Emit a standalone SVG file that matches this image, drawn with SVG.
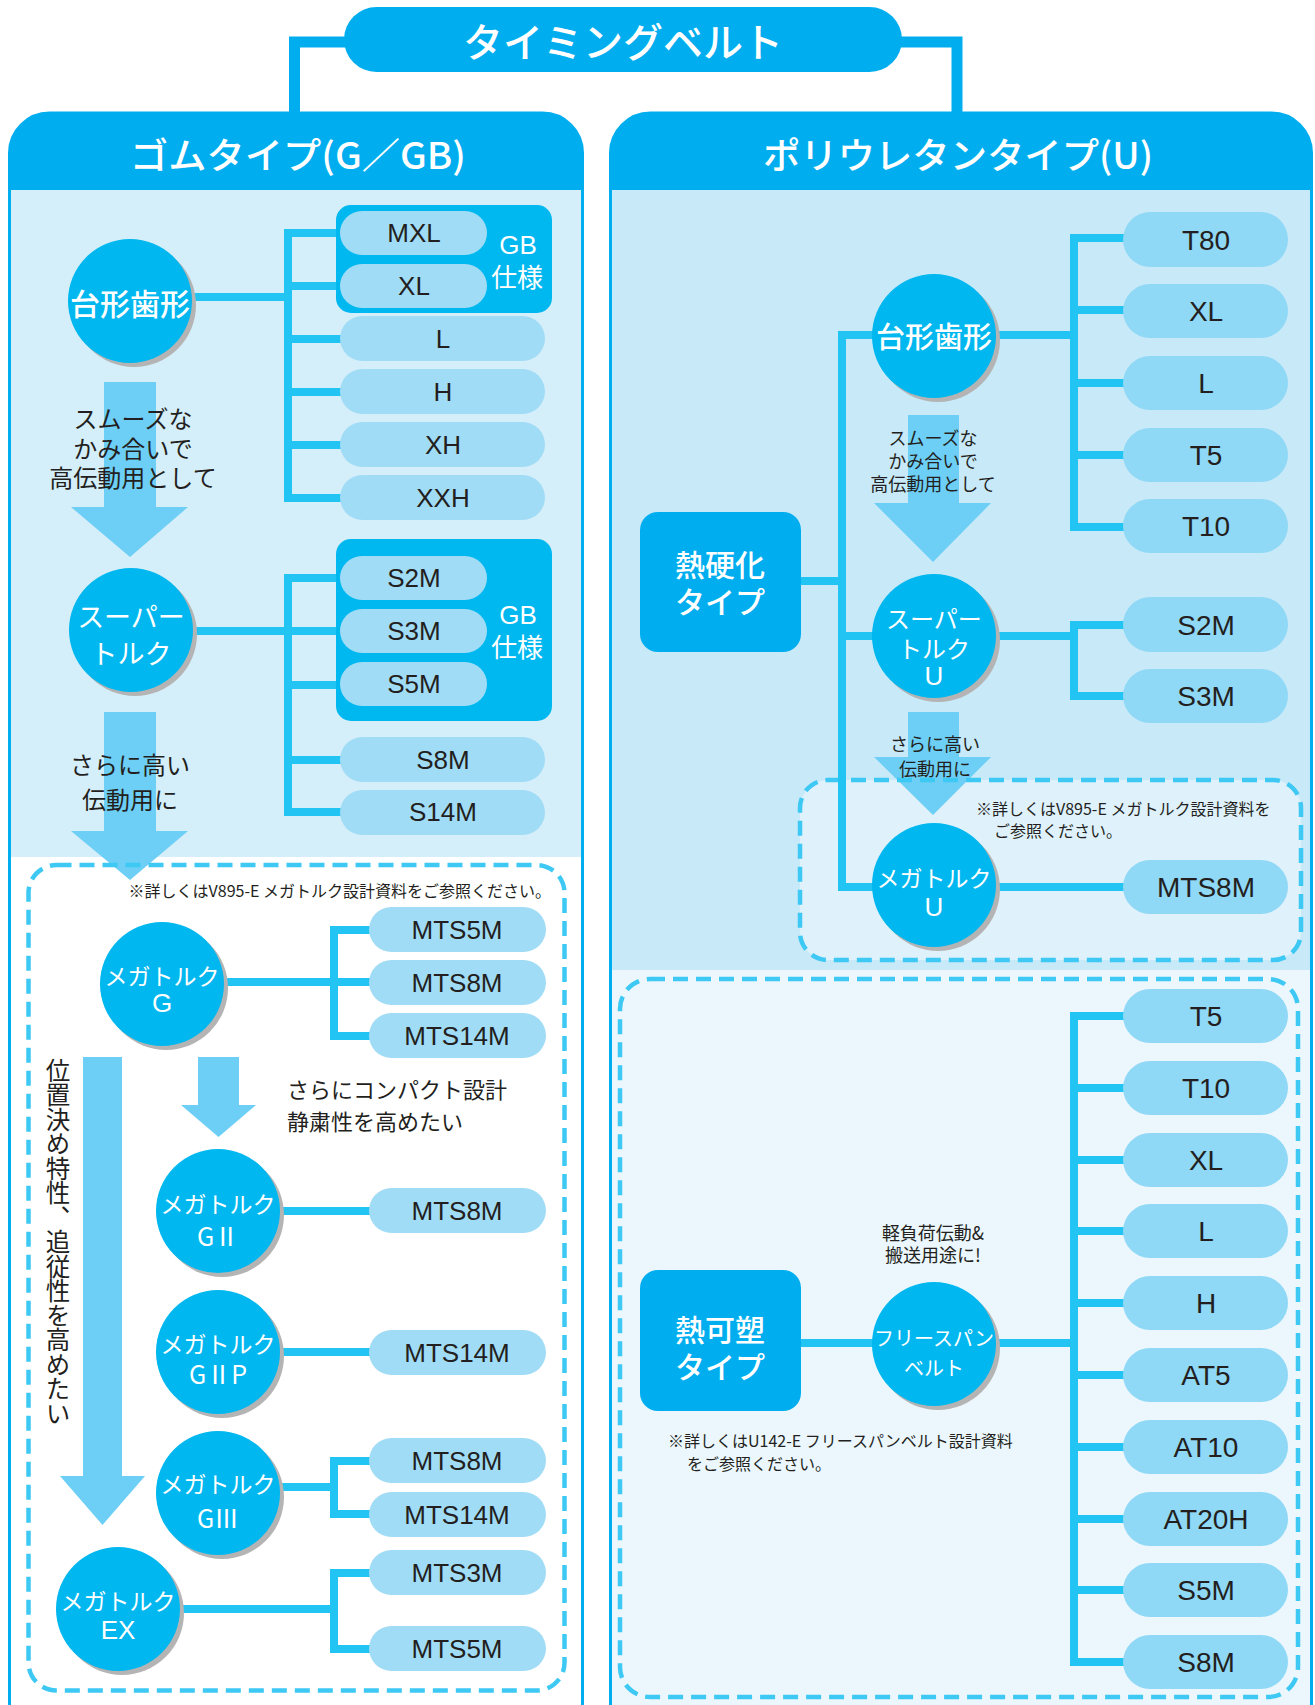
<svg xmlns="http://www.w3.org/2000/svg" width="1315" height="1705" viewBox="0 0 1315 1705">
<defs>
<style>
.jp{font-family:"Noto Sans CJK JP","Noto Sans",sans-serif}
.lat{font-family:"Liberation Sans",Arial,sans-serif}
.hdr{fill:#00aeef}
.htxt{fill:#fff;font-size:36px;text-anchor:middle;dominant-baseline:central;font-weight:500}
.pl{fill:#a1dcf6}
.pr{fill:#8fd8f6}
.pt{fill:#231f20;font-size:26px;text-anchor:middle;dominant-baseline:central}
.prt{fill:#231f20;font-size:28px;text-anchor:middle;dominant-baseline:central}
.gb{fill:#00b8f0}
.gbt{fill:#fff;font-size:26px;text-anchor:middle;dominant-baseline:central}
.circ{fill:#00b7ef}
.shd{fill:#b4b4b4}
.ct{fill:#fff;text-anchor:middle;dominant-baseline:central}
.box{fill:#00aeef}
.bt{fill:#fff;font-size:30px;text-anchor:middle;dominant-baseline:central;font-weight:500}
.jt{fill:#231f20}
.conn{stroke:#22c4f3;stroke-width:8;fill:none}
.arrow{fill:#6dcff6}
.dash{fill:none;stroke:#3ec8f4;stroke-width:4.5;stroke-dasharray:15 8}
</style>
</defs>
<rect x="0" y="0" width="1315" height="1705" fill="#fff"/>

<g id="title-links">
<path d="M294.5,113 V42 H360 M957,113 V42 H890" stroke="#00aeef" stroke-width="11" fill="none"/>
</g>
<g id="title">
<rect x="344" y="7" width="558" height="65" rx="32.5" class="hdr"/>
<text x="623" y="40" class="jp htxt" style="font-size:40px">タイミングベルト</text>
</g>

<g id="panel-rubber">
<rect x="9.5" y="113" width="573" height="1630" rx="40" fill="#fff" stroke="#00aeef" stroke-width="3"/>
<path d="M9.5,190 V153 A40,40 0 0 1 49.5,113 H542.5 A40,40 0 0 1 582.5,153 V190 Z" class="hdr"/>
<rect x="11" y="190" width="570" height="667" fill="#d4eefa"/>
<text x="298" y="153" class="jp htxt" textLength="336" lengthAdjust="spacingAndGlyphs">ゴムタイプ(G／GB)</text>
</g>

<g id="panel-urethane">
<rect x="610.5" y="113" width="701" height="1630" rx="40" fill="#ebf7fd" stroke="#00aeef" stroke-width="3"/>
<path d="M610.5,190 V153 A40,40 0 0 1 650.5,113 H1271.5 A40,40 0 0 1 1311.5,153 V190 Z" class="hdr"/>
<rect x="612" y="190" width="698" height="780" fill="#c7e9f8"/>
<text x="958" y="153" class="jp htxt" textLength="390" lengthAdjust="spacingAndGlyphs">ポリウレタンタイプ(U)</text>
</g>

<rect x="800" y="780" width="501" height="180" rx="28" fill="#dff1fb"/>

<g id="arrows">
<polygon class="arrow" points="104,382 156,382 156,507 188,507 130,557 71,507 104,507"/>
<polygon class="arrow" points="104,712 156,712 156,831 188,831 130,880 71,831 104,831"/>
<polygon class="arrow" points="83,1057 122,1057 122,1476 145,1476 102.5,1525 60,1476 83,1476"/>
<polygon class="arrow" points="198,1057 239,1057 239,1105 256,1105 218.5,1137 181,1105 198,1105"/>
<polygon class="arrow" points="908,415 959,415 959,503 991,503 933,562 874,503 908,503"/>
<polygon class="arrow" points="908,712 959,712 959,757 991,757 933,815 874,757 908,757"/>
</g>

<g id="groups">
<rect x="28.5" y="865" width="536" height="825.5" rx="28" class="dash"/>
<rect x="800" y="780" width="501" height="180" rx="28" class="dash"/>
<rect x="620" y="979" width="678" height="718" rx="30" class="dash"/>
</g>

<g id="labels" class="jp jt">
<text x="133" y="417" font-size="24" text-anchor="middle" dominant-baseline="central">スムーズな</text>
<text x="133" y="447" font-size="24" text-anchor="middle" dominant-baseline="central">かみ合いで</text>
<text x="133" y="476" font-size="24" text-anchor="middle" dominant-baseline="central">高伝動用として</text>
<text x="130" y="763" font-size="24" text-anchor="middle" dominant-baseline="central">さらに高い</text>
<text x="130" y="798" font-size="24" text-anchor="middle" dominant-baseline="central">伝動用に</text>
<text x="551" y="890" font-size="16" text-anchor="end" dominant-baseline="central">※詳しくはV895-E メガトルク設計資料をご参照ください。</text>
<text x="287" y="1088" font-size="22" dominant-baseline="central">さらにコンパクト設計</text>
<text x="287" y="1120" font-size="22" dominant-baseline="central">静粛性を高めたい</text>
<text x="58" y="1058" font-size="24.5" style="writing-mode:vertical-rl">位置決め特性、追従性を高めたい</text>
<text x="933" y="437" font-size="18" text-anchor="middle" dominant-baseline="central">スムーズな</text>
<text x="933" y="460" font-size="18" text-anchor="middle" dominant-baseline="central">かみ合いで</text>
<text x="933" y="483" font-size="18" text-anchor="middle" dominant-baseline="central">高伝動用として</text>
<text x="935" y="743" font-size="18" text-anchor="middle" dominant-baseline="central">さらに高い</text>
<text x="935" y="768" font-size="18" text-anchor="middle" dominant-baseline="central">伝動用に</text>
<text x="976" y="808" font-size="16" dominant-baseline="central">※詳しくはV895-E メガトルク設計資料を</text>
<text x="994" y="830" font-size="16" dominant-baseline="central">ご参照ください。</text>
<text x="933" y="1232" font-size="18" text-anchor="middle" dominant-baseline="central">軽負荷伝動&amp;</text>
<text x="933" y="1254" font-size="18" text-anchor="middle" dominant-baseline="central">搬送用途に!</text>
<text x="668" y="1440" font-size="16" dominant-baseline="central">※詳しくはU142-E フリースパンベルト設計資料</text>
<text x="687" y="1463" font-size="16" dominant-baseline="central">をご参照ください。</text>
</g>

<g id="connectors" class="conn">
<path d="M190,297 H288"/>
<path d="M345,233 H288 V498 H345 M288,286 H345 M288,339 H345 M288,392 H345 M288,445 H345"/>
<path d="M192,631 H288"/>
<path d="M345,578 H288 V812 H345 M288,631 H345 M288,685 H345 M288,760 H345"/>
<path d="M222,982 H372"/>
<path d="M372,930 H334 V1036 H372"/>
<path d="M278,1211 H372"/>
<path d="M278,1352 H372"/>
<path d="M278,1487 H334"/>
<path d="M372,1461 H334 V1514 H372"/>
<path d="M178,1609 H334"/>
<path d="M372,1573 H334 V1649 H372"/>
<path d="M995,335 H1074"/>
<path d="M1128,238 H1074 V527 H1128 M1074,310 H1128 M1074,383 H1128 M1074,455 H1128"/>
<path d="M875,335 H842 V887 H875"/>
<path d="M795,581 H842"/>
<path d="M842,636 H875"/>
<path d="M995,636 H1074"/>
<path d="M1128,625 H1074 V696 H1128"/>
<path d="M995,887 H1128"/>
<path d="M795,1343 H875"/>
<path d="M995,1343 H1074"/>
<path d="M1128,1016 H1074 V1662 H1128 M1074,1088 H1128 M1074,1160 H1128 M1074,1231 H1128 M1074,1303 H1128 M1074,1375 H1128 M1074,1447 H1128 M1074,1519 H1128 M1074,1590 H1128"/>
</g>

<g id="gb-1">
<rect x="336" y="205" width="216" height="108" rx="15" class="gb"/>
<text x="518" y="245" class="lat gbt">GB</text>
<text x="517" y="275" class="jp gbt">仕様</text>
</g>
<g id="gb-2">
<rect x="336" y="539" width="216" height="182" rx="15" class="gb"/>
<text x="518" y="615" class="lat gbt">GB</text>
<text x="517" y="645" class="jp gbt">仕様</text>
</g>

<g id="p-mxl"><rect x="340" y="211" width="147" height="44" rx="22" class="pl"/><text x="414" y="233" class="lat pt">MXL</text></g>
<g id="p-xl"><rect x="340" y="264" width="147" height="44" rx="22" class="pl"/><text x="414" y="286" class="lat pt">XL</text></g>
<g id="p-l"><rect x="340" y="316" width="205" height="45" rx="22.5" class="pl"/><text x="443" y="339" class="lat pt">L</text></g>
<g id="p-h"><rect x="340" y="369" width="205" height="45" rx="22.5" class="pl"/><text x="443" y="392" class="lat pt">H</text></g>
<g id="p-xh"><rect x="340" y="422" width="205" height="45" rx="22.5" class="pl"/><text x="443" y="445" class="lat pt">XH</text></g>
<g id="p-xxh"><rect x="340" y="475" width="205" height="45" rx="22.5" class="pl"/><text x="443" y="498" class="lat pt">XXH</text></g>
<g id="p-s2m"><rect x="340" y="556" width="147" height="44" rx="22" class="pl"/><text x="414" y="578" class="lat pt">S2M</text></g>
<g id="p-s3m"><rect x="340" y="609" width="147" height="44" rx="22" class="pl"/><text x="414" y="631" class="lat pt">S3M</text></g>
<g id="p-s5m"><rect x="340" y="662" width="147" height="44" rx="22" class="pl"/><text x="414" y="684" class="lat pt">S5M</text></g>
<g id="p-s8m"><rect x="340" y="737" width="205" height="45" rx="22.5" class="pl"/><text x="443" y="760" class="lat pt">S8M</text></g>
<g id="p-s14m"><rect x="340" y="790" width="205" height="45" rx="22.5" class="pl"/><text x="443" y="812" class="lat pt">S14M</text></g>
<g id="p-g-mts5m"><rect x="369" y="907" width="177" height="45" rx="22.5" class="pl"/><text x="457" y="930" class="lat pt">MTS5M</text></g>
<g id="p-g-mts8m"><rect x="369" y="960" width="177" height="45" rx="22.5" class="pl"/><text x="457" y="983" class="lat pt">MTS8M</text></g>
<g id="p-g-mts14m"><rect x="369" y="1013" width="177" height="45" rx="22.5" class="pl"/><text x="457" y="1036" class="lat pt">MTS14M</text></g>
<g id="p-g2-mts8m"><rect x="369" y="1188" width="177" height="45" rx="22.5" class="pl"/><text x="457" y="1211" class="lat pt">MTS8M</text></g>
<g id="p-g2p-mts14m"><rect x="369" y="1330" width="177" height="45" rx="22.5" class="pl"/><text x="457" y="1353" class="lat pt">MTS14M</text></g>
<g id="p-g3-mts8m"><rect x="369" y="1438" width="177" height="45" rx="22.5" class="pl"/><text x="457" y="1461" class="lat pt">MTS8M</text></g>
<g id="p-g3-mts14m"><rect x="369" y="1492" width="177" height="45" rx="22.5" class="pl"/><text x="457" y="1515" class="lat pt">MTS14M</text></g>
<g id="p-ex-mts3m"><rect x="369" y="1550" width="177" height="45" rx="22.5" class="pl"/><text x="457" y="1573" class="lat pt">MTS3M</text></g>
<g id="p-ex-mts5m"><rect x="369" y="1626" width="177" height="45" rx="22.5" class="pl"/><text x="457" y="1649" class="lat pt">MTS5M</text></g>

<g id="r-t80"><rect x="1123" y="212" width="165" height="55" rx="27.5" class="pr"/><text x="1206" y="240" class="lat prt">T80</text></g>
<g id="r-xl"><rect x="1123" y="284" width="165" height="54" rx="27" class="pr"/><text x="1206" y="311" class="lat prt">XL</text></g>
<g id="r-l"><rect x="1123" y="356" width="165" height="54" rx="27" class="pr"/><text x="1206" y="383" class="lat prt">L</text></g>
<g id="r-t5"><rect x="1123" y="428" width="165" height="54" rx="27" class="pr"/><text x="1206" y="455" class="lat prt">T5</text></g>
<g id="r-t10"><rect x="1123" y="499" width="165" height="54" rx="27" class="pr"/><text x="1206" y="526" class="lat prt">T10</text></g>
<g id="r-s2m"><rect x="1123" y="597" width="165" height="55" rx="27.5" class="pr"/><text x="1206" y="625" class="lat prt">S2M</text></g>
<g id="r-s3m"><rect x="1123" y="669" width="165" height="54" rx="27" class="pr"/><text x="1206" y="696" class="lat prt">S3M</text></g>
<g id="r-mts8m"><rect x="1123" y="860" width="165" height="54" rx="27" class="pr"/><text x="1206" y="887" class="lat prt">MTS8M</text></g>
<g id="r-fs-t5"><rect x="1123" y="989" width="165" height="54" rx="27" class="pr"/><text x="1206" y="1016" class="lat prt">T5</text></g>
<g id="r-fs-t10"><rect x="1123" y="1061" width="165" height="54" rx="27" class="pr"/><text x="1206" y="1088" class="lat prt">T10</text></g>
<g id="r-fs-xl"><rect x="1123" y="1133" width="165" height="54" rx="27" class="pr"/><text x="1206" y="1160" class="lat prt">XL</text></g>
<g id="r-fs-l"><rect x="1123" y="1204" width="165" height="54" rx="27" class="pr"/><text x="1206" y="1231" class="lat prt">L</text></g>
<g id="r-fs-h"><rect x="1123" y="1276" width="165" height="54" rx="27" class="pr"/><text x="1206" y="1303" class="lat prt">H</text></g>
<g id="r-fs-at5"><rect x="1123" y="1348" width="165" height="54" rx="27" class="pr"/><text x="1206" y="1375" class="lat prt">AT5</text></g>
<g id="r-fs-at10"><rect x="1123" y="1420" width="165" height="54" rx="27" class="pr"/><text x="1206" y="1447" class="lat prt">AT10</text></g>
<g id="r-fs-at20h"><rect x="1123" y="1492" width="165" height="54" rx="27" class="pr"/><text x="1206" y="1519" class="lat prt">AT20H</text></g>
<g id="r-fs-s5m"><rect x="1123" y="1563" width="165" height="54" rx="27" class="pr"/><text x="1206" y="1590" class="lat prt">S5M</text></g>
<g id="r-fs-s8m"><rect x="1123" y="1635" width="165" height="54" rx="27" class="pr"/><text x="1206" y="1662" class="lat prt">S8M</text></g>

<g id="n-trap-g"><circle cx="134" cy="305" r="62" class="shd"/><circle cx="130" cy="301" r="62" class="circ"/><text x="130" y="302" class="jp ct" font-size="30" font-weight="500">台形歯形</text></g>
<g id="n-super-g"><circle cx="135" cy="634" r="62" class="shd"/><circle cx="131" cy="630" r="62" class="circ"/><text x="131" y="615" class="jp ct" font-size="27">スーパー</text><text x="131" y="652" class="jp ct" font-size="27">トルク</text></g>
<g id="n-mega-g"><circle cx="166" cy="988" r="62" class="shd"/><circle cx="162" cy="984" r="62" class="circ"/><text x="162" y="975" class="jp ct" font-size="23">メガトルク</text><text x="162" y="1003" class="lat ct" font-size="26">G</text></g>
<g id="n-mega-g2"><circle cx="222" cy="1215" r="62" class="shd"/><circle cx="218" cy="1211" r="62" class="circ"/><text x="218" y="1203" class="jp ct" font-size="23">メガトルク</text><text x="218" y="1235" class="jp ct" font-size="25">GⅡ</text></g>
<g id="n-mega-g2p"><circle cx="222" cy="1356" r="62" class="shd"/><circle cx="218" cy="1352" r="62" class="circ"/><text x="218" y="1343" class="jp ct" font-size="23">メガトルク</text><text x="218" y="1373" class="jp ct" font-size="25">GⅡP</text></g>
<g id="n-mega-g3"><circle cx="222" cy="1497" r="62" class="shd"/><circle cx="218" cy="1493" r="62" class="circ"/><text x="218" y="1483" class="jp ct" font-size="23">メガトルク</text><text x="218" y="1517" class="jp ct" font-size="25">GⅢ</text></g>
<g id="n-mega-ex"><circle cx="122" cy="1613" r="62" class="shd"/><circle cx="118" cy="1609" r="62" class="circ"/><text x="118" y="1600" class="jp ct" font-size="23">メガトルク</text><text x="118" y="1630" class="lat ct" font-size="26">EX</text></g>

<g id="n-thermoset"><rect x="640" y="512" width="161" height="140" rx="18" class="box"/><text x="720" y="563" class="jp bt">熱硬化</text><text x="720" y="600" class="jp bt">タイプ</text></g>
<g id="n-thermoplastic"><rect x="640" y="1270" width="161" height="141" rx="18" class="box"/><text x="720" y="1328" class="jp bt">熱可塑</text><text x="720" y="1365" class="jp bt">タイプ</text></g>

<g id="n-trap-u"><circle cx="938" cy="340" r="62" class="shd"/><circle cx="934" cy="336" r="62" class="circ"/><text x="934" y="335" class="jp ct" font-size="29" font-weight="500">台形歯形</text></g>
<g id="n-super-u"><circle cx="938" cy="640" r="62" class="shd"/><circle cx="934" cy="636" r="62" class="circ"/><text x="934" y="617" class="jp ct" font-size="24">スーパー</text><text x="934" y="647" class="jp ct" font-size="24">トルク</text><text x="934" y="676" class="lat ct" font-size="26">U</text></g>
<g id="n-mega-u"><circle cx="938" cy="889" r="62" class="shd"/><circle cx="934" cy="885" r="62" class="circ"/><text x="934" y="877" class="jp ct" font-size="23">メガトルク</text><text x="934" y="907" class="lat ct" font-size="26">U</text></g>
<g id="n-freespan"><circle cx="938" cy="1348" r="62" class="shd"/><circle cx="934" cy="1344" r="62" class="circ"/><text x="934" y="1337" class="jp ct" font-size="20">フリースパン</text><text x="934" y="1367" class="jp ct" font-size="20">ベルト</text></g>
</svg>
